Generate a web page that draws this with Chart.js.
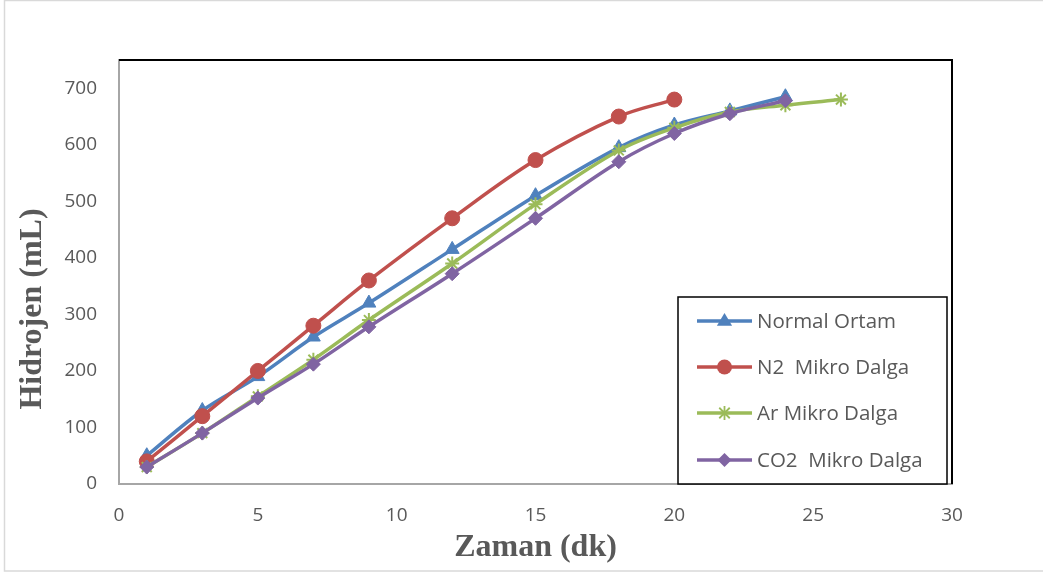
<!DOCTYPE html>
<html>
<head>
<meta charset="utf-8">
<script src="https://cdn.jsdelivr.net/npm/chart.js@4/dist/chart.umd.min.js"></script>
<style>
  html, body { margin: 0; padding: 0; background: #fff; }
  #wrap { width: 1043px; height: 574px; position: relative; }
</style>
</head>
<body>
<div id="wrap"><canvas id="hChart" width="1043" height="574"></canvas></div>
<script>
// --- Data ---
const zaman = [1, 3, 5, 7, 9, 12, 15, 18, 20, 22, 24, 26];
const normalOrtam = [50, 130, 190, 260, 320, 415, 510, 595, 635, 660, 685];
const n2Mikro = [40, 120, 200, 280, 360, 470, 573, 650, 680];
const arMikro = [30, 90, 155, 220, 290, 390, 495, 590, 630, 658, 670, 680];
const co2Mikro = [30, 90, 152, 212, 278, 372, 470, 570, 620, 655, 678];

const xTicks = [0, 5, 10, 15, 20, 25, 30];
const yTicks = [0, 100, 200, 300, 400, 500, 600, 700];

const seriesNames = ['Normal Ortam', 'N2  Mikro Dalga', 'Ar Mikro Dalga', 'CO2  Mikro Dalga'];
const seriesColors = ['#4f81bd', '#c0504d', '#9bbb59', '#8064a2'];
const seriesMarkers = ['triangle', 'circle', 'star', 'rectRot'];

const yTitle = 'Hidrojen (mL)';
const xTitle = 'Zaman (dk)';

const TEXT_GREY = '#595959';
const SANS = '"Open Sans", "Liberation Sans", sans-serif';
const SERIF = '"Liberation Serif", "Times New Roman", serif';
const TICK_FONT = { family: SANS, size: 19 };

function toPoints(vals) {
    return vals.map((v, i) => ({ x: zaman[i], y: v }));
}

function makeSet(idx, vals, radius) {
    return {
        label: seriesNames[idx],
        data: toPoints(vals),
        borderColor: seriesColors[idx],
        backgroundColor: seriesColors[idx],
        pointBackgroundColor: seriesColors[idx],
        pointBorderColor: seriesColors[idx],
        pointStyle: seriesMarkers[idx],
        pointRadius: radius,
        pointBorderWidth: idx === 2 ? 2 : 1,
        borderWidth: 3.5,
        tension: 0.35,
        order: 4 - idx // later series sit on top
    };
}

// small marker painter for the legend box
function drawMarker(ctx, style, x, y, r, color) {
    ctx.save();
    ctx.fillStyle = color;
    ctx.strokeStyle = color;
    ctx.beginPath();
    if (style === 'triangle') {
        ctx.moveTo(x, y - r);
        ctx.lineTo(x + r * 0.95, y + r * 0.6);
        ctx.lineTo(x - r * 0.95, y + r * 0.6);
        ctx.closePath();
        ctx.fill();
    } else if (style === 'circle') {
        ctx.arc(x, y, r, 0, Math.PI * 2);
        ctx.fill();
    } else if (style === 'rectRot') {
        ctx.moveTo(x, y - r);
        ctx.lineTo(x + r, y);
        ctx.lineTo(x, y + r);
        ctx.lineTo(x - r, y);
        ctx.closePath();
        ctx.fill();
    } else {
        ctx.lineWidth = 1.8;
        const d = r * 0.75;
        ctx.moveTo(x - d, y - d); ctx.lineTo(x + d, y + d);
        ctx.moveTo(x + d, y - d); ctx.lineTo(x - d, y + d);
        ctx.moveTo(x, y - r); ctx.lineTo(x, y + r);
        ctx.moveTo(x - r, y); ctx.lineTo(x + r, y);
        ctx.stroke();
    }
    ctx.restore();
}

// frame, top/right plot edges, y title and the boxed legend
const framePlugin = {
    id: 'frame',
    beforeDraw(chart) {
        const ctx = chart.ctx;
        ctx.save();
        ctx.fillStyle = '#fff';
        ctx.fillRect(0, 0, chart.width, chart.height);
        ctx.strokeStyle = '#d9d9d9';
        ctx.lineWidth = 1.5;
        ctx.strokeRect(4.5, 0.5, chart.width + 10, 570.5);

        // y title sits a bit below the plot's middle
        ctx.translate(33, 309);
        ctx.rotate(-Math.PI / 2);
        ctx.font = `bold 32px ${SERIF}`;
        ctx.fillStyle = TEXT_GREY;
        ctx.textAlign = 'center';
        ctx.textBaseline = 'middle';
        ctx.fillText(yTitle, 0, 0);
        ctx.restore();
    },
    afterDraw(chart) {
        const ctx = chart.ctx;
        const a = chart.chartArea;
        ctx.save();
        ctx.strokeStyle = '#000';
        ctx.lineWidth = 2;
        ctx.beginPath();
        ctx.moveTo(a.left, a.top);
        ctx.lineTo(a.right, a.top);
        ctx.lineTo(a.right, a.bottom);
        ctx.stroke();

        // legend box
        const bx = 678, by = 297, bw = 269, bh = 187;
        ctx.fillStyle = '#fff';
        ctx.fillRect(bx, by, bw, bh);
        ctx.lineWidth = 1.5;
        ctx.strokeRect(bx, by, bw, bh);
        const rows = [321, 367, 413, 460];
        const radii = [8, 7.5, 7, 7];
        ctx.font = `20.5px ${SANS}`;
        ctx.textBaseline = 'middle';
        seriesNames.forEach((name, i) => {
            const y = rows[i];
            ctx.strokeStyle = seriesColors[i];
            ctx.lineWidth = 3.5;
            ctx.beginPath();
            ctx.moveTo(697, y);
            ctx.lineTo(752, y);
            ctx.stroke();
            drawMarker(ctx, seriesMarkers[i], 724.5, y, radii[i], seriesColors[i]);
            ctx.fillStyle = TEXT_GREY;
            ctx.fillText(name, 757, y + 1);
        });
        ctx.restore();
    }
};

const ctx = document.getElementById('hChart').getContext('2d');
new Chart(ctx, {
    type: 'line',
    data: {
        datasets: [
            makeSet(0, normalOrtam, 8),
            makeSet(1, n2Mikro, 7.5),
            makeSet(2, arMikro, 7),
            makeSet(3, co2Mikro, 7)
        ]
    },
    options: {
        responsive: false,
        animation: false,
        layout: { padding: { top: 60, right: 91, left: 0, bottom: 0 } },
        plugins: {
            legend: { display: false },
            tooltip: { enabled: false }
        },
        scales: {
            x: {
                type: 'linear',
                min: 0,
                max: 30,
                afterFit(scale) { scale.height = 90; },
                afterBuildTicks(scale) { scale.ticks = xTicks.map(v => ({ value: v })); },
                grid: { display: false, drawTicks: false },
                border: { display: true, color: '#a6a6a6', width: 2 },
                ticks: { color: TEXT_GREY, font: TICK_FONT, padding: 20, maxRotation: 0 },
                title: {
                    display: true,
                    text: xTitle,
                    color: TEXT_GREY,
                    font: { family: SERIF, size: 32, weight: 'bold' },
                    padding: { top: 0, bottom: 7 }
                }
            },
            y: {
                type: 'linear',
                min: 0,
                max: 750,
                afterFit(scale) { scale.width = 119; },
                afterBuildTicks(scale) { scale.ticks = yTicks.map(v => ({ value: v })); },
                grid: { display: false, drawTicks: false },
                border: { display: true, color: '#a6a6a6', width: 2 },
                ticks: { color: TEXT_GREY, font: TICK_FONT, padding: 22 }
            }
        }
    },
    plugins: [framePlugin]
});
</script>
</body>
</html>
